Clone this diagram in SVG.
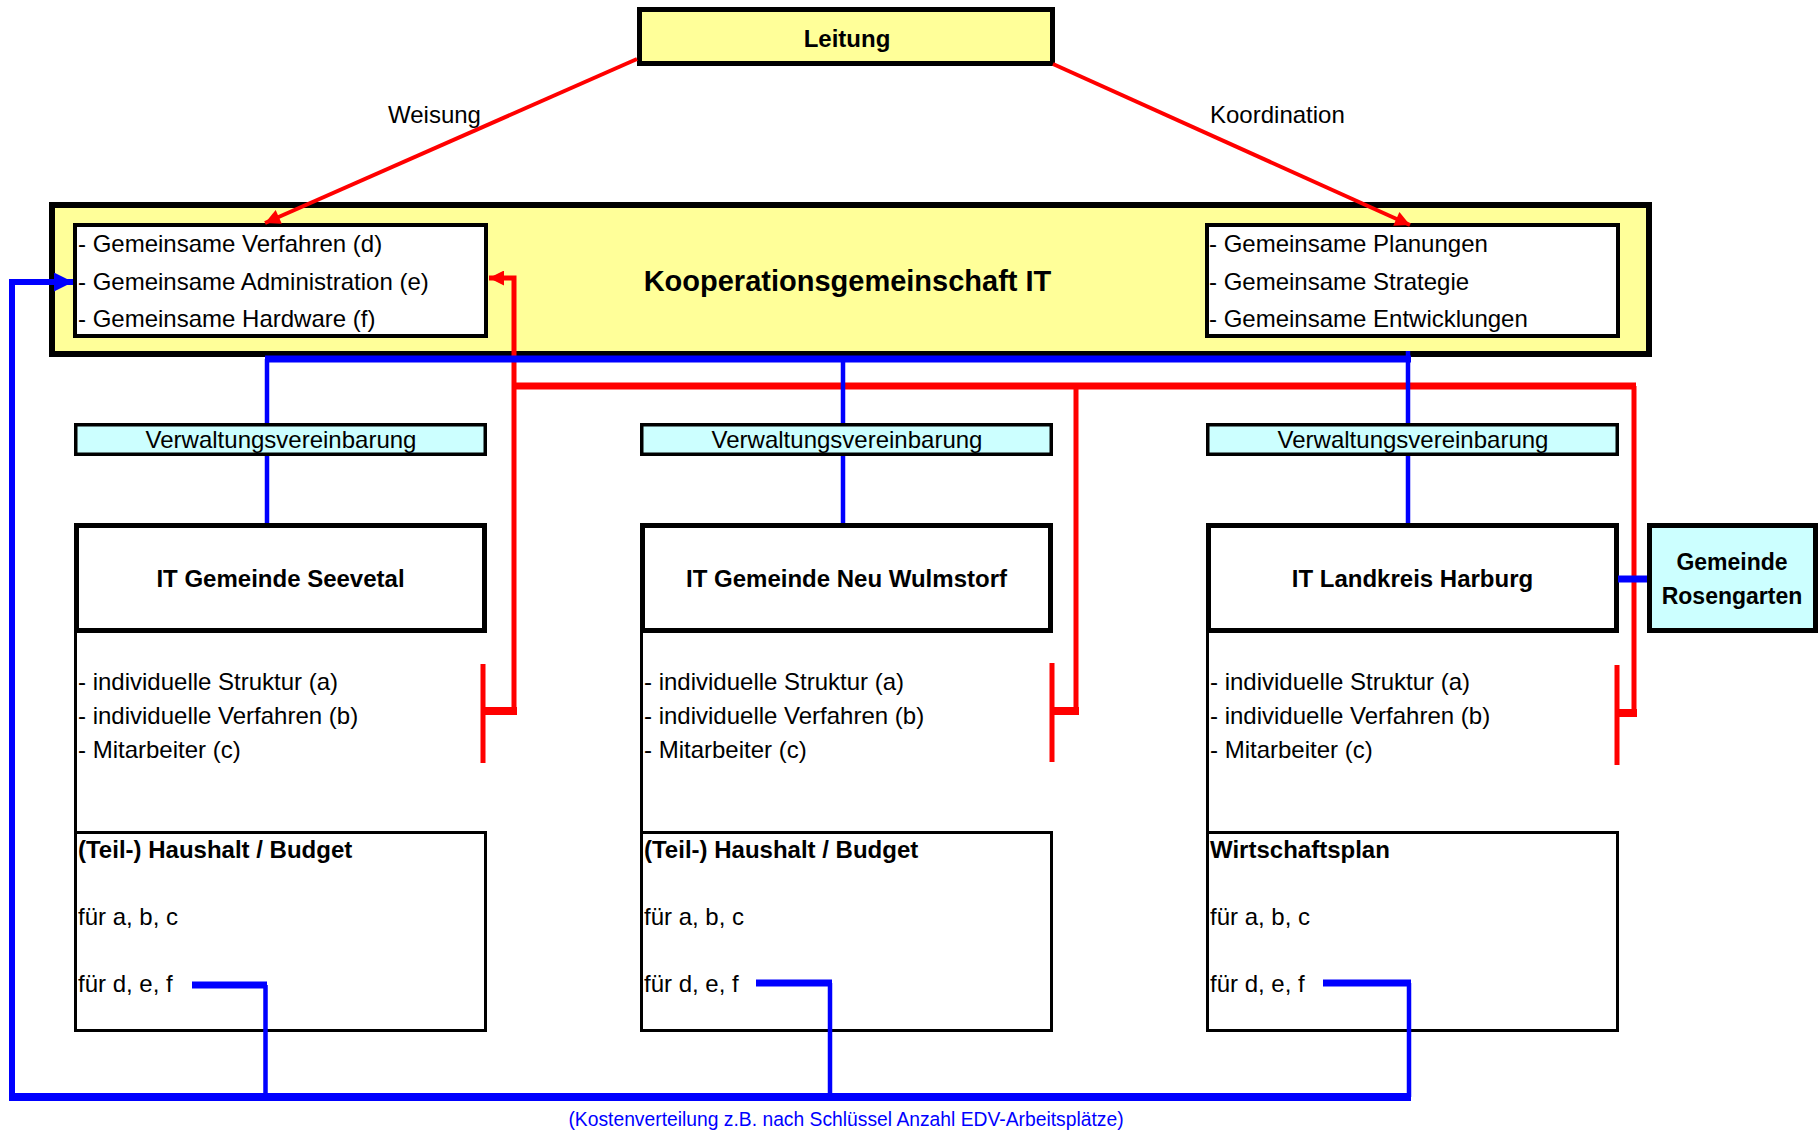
<svg xmlns="http://www.w3.org/2000/svg" width="1818" height="1132" viewBox="0 0 1818 1132">
<defs>
<style>
.t{font-family:"Liberation Sans",Arial,sans-serif;font-size:24px;fill:#000}
.b{font-weight:bold}
.c{text-anchor:middle}
.yel{fill:#FFFF99;stroke:#000}
.cyan{fill:#CCFFFF;stroke:#000}
.wht{fill:#FFFFFF;stroke:#000}
.red{fill:none;stroke:#FF0000}
.blue{fill:none;stroke:#0000FF}
</style>
<marker id="ar" viewBox="0 0 10 10" refX="10" refY="5" markerWidth="17" markerHeight="15" markerUnits="userSpaceOnUse" orient="auto"><path d="M0,0 L10,5 L0,10 z" fill="#FF0000"/></marker>
<marker id="ab" viewBox="0 0 10 10" refX="10" refY="5" markerWidth="19" markerHeight="19" markerUnits="userSpaceOnUse" orient="auto"><path d="M0,0 L10,5 L0,10 z" fill="#0000FF"/></marker>
</defs>
<rect width="1818" height="1132" fill="#FFFFFF"/>

<g id="leitung">
<rect class="yel" x="639.5" y="9.5" width="413" height="54" stroke-width="5"/>
<text class="t b c" x="847" y="47">Leitung</text>
</g>

<g id="kooperationsgemeinschaft">
<rect class="yel" x="52" y="205" width="1597" height="149" stroke-width="6"/>
<text class="t b c" x="847.5" y="291" style="font-size:29px">Kooperationsgemeinschaft IT</text>
</g>

<g id="gemeinsam-links">
<rect class="wht" x="75" y="225" width="411" height="111" stroke-width="4"/>
<text class="t" x="78" y="252">- Gemeinsame Verfahren (d)</text>
<text class="t" x="78" y="290">- Gemeinsame Administration (e)</text>
<text class="t" x="78" y="327">- Gemeinsame Hardware (f)</text>
</g>

<g id="gemeinsam-rechts">
<rect class="wht" x="1207" y="225" width="411" height="111" stroke-width="4"/>
<text class="t" x="1209" y="252">- Gemeinsame Planungen</text>
<text class="t" x="1209" y="290">- Gemeinsame Strategie</text>
<text class="t" x="1209" y="327">- Gemeinsame Entwicklungen</text>
</g>

<g id="vv-seevetal">
<rect class="cyan" x="75.75" y="424.75" width="409.5" height="29.5" stroke-width="3.5"/>
<text class="t c" x="281" y="448">Verwaltungsvereinbarung</text>
</g>
<g id="vv-neuwulmstorf">
<rect class="cyan" x="641.75" y="424.75" width="409.5" height="29.5" stroke-width="3.5"/>
<text class="t c" x="847" y="448">Verwaltungsvereinbarung</text>
</g>
<g id="vv-harburg">
<rect class="cyan" x="1207.75" y="424.75" width="409.5" height="29.5" stroke-width="3.5"/>
<text class="t c" x="1413" y="448">Verwaltungsvereinbarung</text>
</g>

<g id="it-seevetal">
<rect class="wht" x="76.5" y="525.5" width="408" height="105" stroke-width="5"/>
<text class="t b c" x="280.5" y="587">IT Gemeinde Seevetal</text>
<line x1="75.5" y1="633" x2="75.5" y2="832" stroke="#000" stroke-width="3"/>
<text class="t" x="78" y="690">- individuelle Struktur (a)</text>
<text class="t" x="78" y="724">- individuelle Verfahren (b)</text>
<text class="t" x="78" y="758">- Mitarbeiter (c)</text>
<rect class="wht" x="75.5" y="832.5" width="410" height="198" stroke-width="3"/>
<text class="t b" x="78" y="858">(Teil-) Haushalt / Budget</text>
<text class="t" x="78" y="925">für a, b, c</text>
<text class="t" x="78" y="992">für d, e, f</text>
</g>

<g id="it-neuwulmstorf">
<rect class="wht" x="642.5" y="525.5" width="408" height="105" stroke-width="5"/>
<text class="t b c" x="846.5" y="587">IT Gemeinde Neu Wulmstorf</text>
<line x1="641.5" y1="633" x2="641.5" y2="832" stroke="#000" stroke-width="3"/>
<text class="t" x="644" y="690">- individuelle Struktur (a)</text>
<text class="t" x="644" y="724">- individuelle Verfahren (b)</text>
<text class="t" x="644" y="758">- Mitarbeiter (c)</text>
<rect class="wht" x="641.5" y="832.5" width="410" height="198" stroke-width="3"/>
<text class="t b" x="644" y="858">(Teil-) Haushalt / Budget</text>
<text class="t" x="644" y="925">für a, b, c</text>
<text class="t" x="644" y="992">für d, e, f</text>
</g>

<g id="it-harburg">
<rect class="wht" x="1208.5" y="525.5" width="408" height="105" stroke-width="5"/>
<text class="t b c" x="1412.5" y="587">IT Landkreis Harburg</text>
<line x1="1207.5" y1="633" x2="1207.5" y2="832" stroke="#000" stroke-width="3"/>
<text class="t" x="1210" y="690">- individuelle Struktur (a)</text>
<text class="t" x="1210" y="724">- individuelle Verfahren (b)</text>
<text class="t" x="1210" y="758">- Mitarbeiter (c)</text>
<rect class="wht" x="1207.5" y="832.5" width="410" height="198" stroke-width="3"/>
<text class="t b" x="1210" y="858">Wirtschaftsplan</text>
<text class="t" x="1210" y="925">für a, b, c</text>
<text class="t" x="1210" y="992">für d, e, f</text>
</g>

<g id="rosengarten">
<rect class="cyan" x="1649.5" y="525.5" width="166" height="105" stroke-width="5"/>
<text class="t b c" x="1732" y="570" style="font-size:23px">Gemeinde</text>
<text class="t b c" x="1732" y="604" style="font-size:23px">Rosengarten</text>
</g>

<g id="connectors">
<line class="red" x1="637" y1="59" x2="265" y2="223" stroke-width="4" marker-end="url(#ar)"/>
<line class="red" x1="1053" y1="64" x2="1410" y2="225" stroke-width="4" marker-end="url(#ar)"/>
<path class="red" d="M514,711 V278 H489" stroke-width="5" marker-end="url(#ar)"/>
<path class="red" d="M512,386 H1636" stroke-width="7"/>
<path class="red" d="M1076,386 V711 M1634,386 V713" stroke-width="5"/>
<path class="red" d="M483,711 H517 M1052,711 H1079 M1617,713 H1637" stroke-width="8"/>
<path class="red" d="M483,664 V763 M1052,663 V762 M1617,665 V765" stroke-width="5"/>

<path class="blue" d="M265,359 H1411" stroke-width="7"/>
<path class="blue" d="M267,359 V423 M267,456 V523 M843,359 V423 M843,456 V523 M1408,351 V423 M1408,456 V523" stroke-width="4.5"/>
<path class="blue" d="M1618,579 H1647" stroke-width="7"/>
<path class="blue" d="M192,985 H267 M756,983 H832 M1323,983 H1411" stroke-width="7"/>
<path class="blue" d="M265.5,985 V1097 M830,983 V1097 M1409,983 V1097" stroke-width="4.5"/>
<path class="blue" d="M9,1097 H1411" stroke-width="8"/>
<path class="blue" d="M12,1100 V282 H73" stroke-width="6" marker-end="url(#ab)"/>
</g>

<text class="t" x="388" y="123">Weisung</text>
<text class="t" x="1210" y="123">Koordination</text>
<text class="t c" x="846" y="1126" style="font-size:19.3px;fill:#0000FF">(Kostenverteilung z.B. nach Schlüssel Anzahl EDV-Arbeitsplätze)</text>
</svg>
